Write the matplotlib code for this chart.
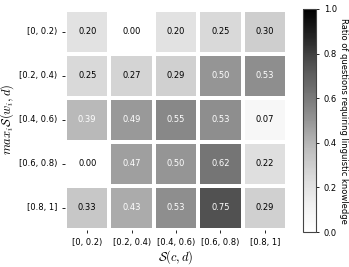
import numpy as np
import matplotlib
matplotlib.use("Agg")
import matplotlib.pyplot as plt
import seaborn as sns

plt.rcParams["mathtext.fontset"] = "cm"

bins = ["[0, 0.2)", "[0.2, 0.4)", "[0.4, 0.6)", "[0.6, 0.8)", "[0.8, 1]"]
row0 = [0.20, 0.00, 0.20, 0.25, 0.30]
row1 = [0.25, 0.27, 0.29, 0.50, 0.53]
row2 = [0.39, 0.49, 0.55, 0.53, 0.07]
row3 = [0.00, 0.47, 0.50, 0.62, 0.22]
row4 = [0.33, 0.43, 0.53, 0.75, 0.29]

data = np.array([row0, row1, row2, row3, row4])

fig = plt.figure(figsize=(3.49, 2.67), dpi=100)
ax = fig.add_axes([65/349, 1 - 230/267, 222/349, 220.5/267])
cax = fig.add_axes([303/349, 1 - 232/267, 13/349, 223/267])

sns.heatmap(data, ax=ax, cbar_ax=cax, cmap="Greys", vmin=0, vmax=1,
            annot=False, linewidths=1.5, linecolor="white",
            xticklabels=bins, yticklabels=bins)

# value labels, white on the darker cells
for i in range(data.shape[0]):
    for j in range(data.shape[1]):
        v = data[i, j]
        ax.text(j + 0.5, i + 0.5, f"{v:.2f}", ha="center", va="center",
                fontsize=6, color="white" if v > 0.35 else "black")

ax.tick_params(labelsize=6, length=2, width=0.6)
ax.set_yticklabels(bins, rotation=0)
ax.set_xticklabels(bins, rotation=0)
ax.set_xlabel(r"$\mathcal{S}(c, d)$", fontsize=9, labelpad=1)
ax.set_ylabel(r"$max_i\mathcal{S}(w_i, d)$", fontsize=9, labelpad=2)

cax.tick_params(labelsize=6, length=2, width=0.6)
cax.set_ylabel("Ratio of questions requiring linguistic knowledge", fontsize=6, rotation=270, labelpad=8)
cb = ax.collections[0].colorbar
cb.outline.set_visible(True)
cb.outline.set_linewidth(0.8)
cb.outline.set_edgecolor("#444444")

fig.savefig("out.png", dpi=100)
